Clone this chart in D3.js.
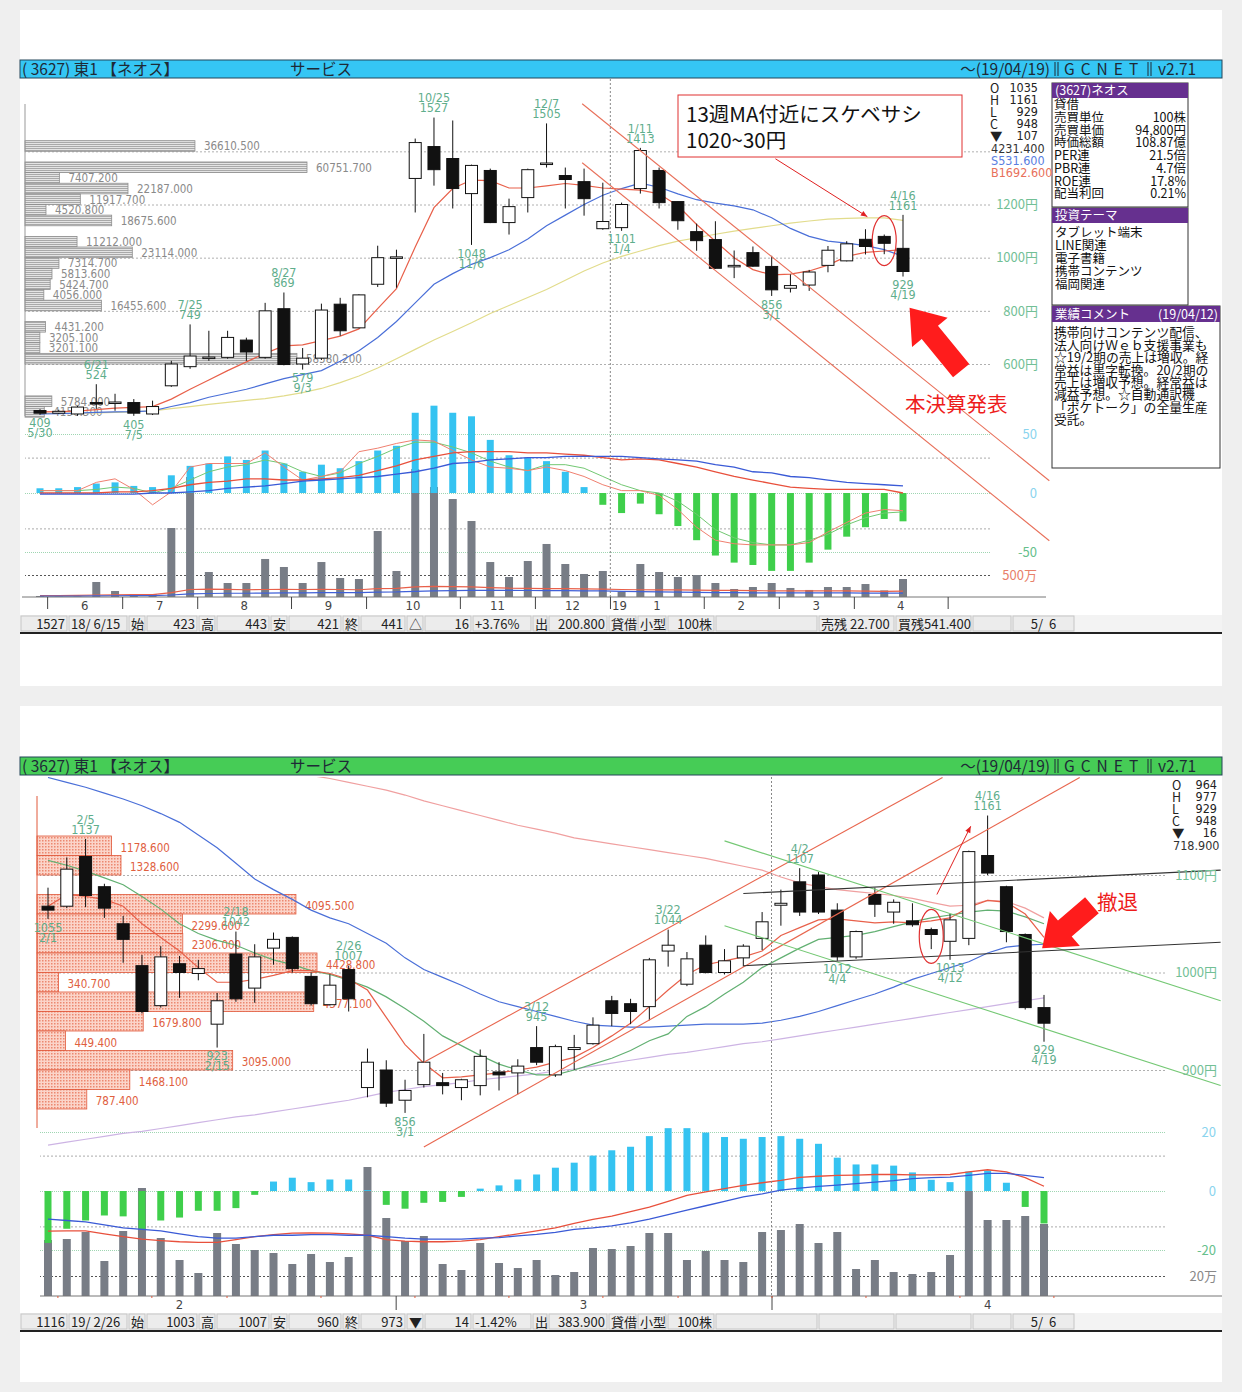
<!DOCTYPE html>
<html lang="ja">
<head>
<meta charset="utf-8">
<title>3627 ネオス</title>
<script src="https://cdn.jsdelivr.net/npm/d3@7"></script>
<style>
  body { margin: 0; background: #efefef; }
  #wrap { position: relative; width: 1242px; height: 1392px; }
  svg { display: block; }
  .blk { position: absolute; white-space: pre; width: max-content; }
</style>
</head>
<body>
<div id="wrap"><svg id="area" width="1242" height="1392"></svg></div>
<script>
// ---------- shared texts ----------
const headerTitle = "( 3627) 東1 【ネオス】";
const headerSector = "サービス";
const headerDate = "〜(19/04/19)";
const headerSite = "GCNET";
const headerVer = "v2.71";

// ---------- weekly chart (top) ----------
const wOpen  = [425,415,412,455,455,455,412,518,590,622,625,690,625,808,600,622,825,736,900,1000,1298,1418,1373,1241,1328,1132,1226,1352,1309,1286,1109,1113,1260,1328,1211,1098,1068,966,1019,967,885,897,971,988,1069,1080,1035];
const wHigh  = [430,428,442,524,488,468,462,612,749,725,725,699,830,869,660,827,849,862,1045,1030,1448,1527,1516,1350,1335,1222,1335,1505,1339,1335,1282,1207,1413,1339,1211,1128,1137,1027,1042,1007,937,954,1044,1062,1107,1087,1161];
const wLow   = [409,412,405,431,424,405,408,514,582,612,620,612,620,595,579,615,706,735,890,887,1170,1271,1185,1048,1130,1087,1170,1339,1185,1158,1105,1101,1241,1185,1105,1026,958,923,966,856,869,875,945,986,1012,1013,929];
const wClose = [415,422,438,452,457,415,440,600,630,626,700,645,800,598,622,803,725,860,1000,1003,1433,1331,1260,1347,1132,1192,1331,1356,1294,1222,1136,1200,1403,1207,1139,1064,960,971,968,879,895,946,1028,1052,1042,1054,948];
const wMaRed    = [420,421,423,428,434,437,440,468,505,540,575,608,640,668,672,688,705,732,808,883,1040,1188,1260,1292,1290,1262,1262,1270,1279,1272,1262,1258,1254,1240,1195,1125,1062,1000,955,935,938,950,972,1005,1020,1025,1030];
const wMaBlue   = [412,413,415,418,420,421,424,440,455,475,490,505,525,545,560,575,610,650,700,760,830,900,940,975,1000,1030,1070,1120,1160,1200,1235,1260,1280,1265,1240,1218,1205,1195,1180,1150,1110,1080,1062,1055,1045,1030,1005];
const wMaYellow = [414,414,415,416,418,420,424,432,440,448,456,463,470,480,492,508,530,555,585,620,655,690,722,755,790,820,850,880,915,950,980,1005,1025,1045,1062,1075,1088,1100,1110,1120,1130,1138,1145,1148,1150,1150,1140];
const wHist      = [4,4,5,8,9,6,5,15,23,25,31,28,36,25,18,24,21,27,36,40,68,74,68,65,45,32,30,27,18,5,-10,-17,-9,-18,-28,-40,-53,-59,-61,-66,-66,-59,-48,-37,-29,-22,-24];
const wThinRed   = [2,2,2,9,12,3,-10,1,22,25,25,25,34,22,11,14,18,35,38,42,45,44,36,28,22,21,19,22,19,14,7,2,2,-2,-14,-29,-40,-43,-44,-44,-44,-42,-33,-25,-17,-14,-15];
const wThinGreen = [2,2,2,3,5,4,0,4,11,18,22,24,28,25,18,14,17,25,31,38,43,43,39,34,27,22,19,24,24,21,14,7,2,0,-7,-18,-31,-38,-42,-44,-44,-40,-35,-27,-21,-17,-16];
const wSigRed    = [0,0,0,0,1,1,2,4,7,9,10,12,12,11,11,12,13,15,19,23,28,31,34,35,35,35,34,34,33,32,30,28,29,28,25,22,18,14,11,8,5,4,3,3,3,3,0];
const wSigBlue   = [-1,-1,-1,-1,-1,-1,0,0,1,2,4,5,6,8,10,11,12,13,14,16,18,21,25,26,28,29,30,30,31,31,31,31,30,29,28,27,24,22,18,17,14,13,11,9,8,7,6];
const wVol     = [23,10,10,341,136,68,68,1568,2727,568,318,318,864,682,318,795,432,409,1500,591,2909,2500,2227,1727,795,455,818,1205,750,523,591,114,750,568,455,500,318,182,227,318,205,160,227,227,295,150,409];
const wVolRed  = [30,30,35,45,50,55,55,100,170,180,175,165,170,175,170,175,170,165,190,195,230,240,235,230,215,200,195,190,190,185,180,170,165,160,160,155,150,150,145,140,140,140,140,140,135,130,135];
const wVolBlue = [20,20,22,25,28,30,30,45,70,80,85,85,90,95,95,100,100,100,110,115,130,140,145,150,150,150,148,145,145,140,138,130,120,115,110,105,100,100,95,95,95,92,92,92,90,90,90];
const wHighLabels = [[3,"6/21"],[8,"7/25"],[13,"8/27"],[21,"10/25"],[27,"12/7"],[32,"1/11"],[46,"4/16"]];
const wLowLabels  = [[0,"5/30"],[5,"7/5"],[14,"9/3"],[23,"11/6"],[31,"1/4"],[39,"3/1"],[46,"4/19"]];
const wPriceTicks = [1200,1000,800,600];
const wPriceGrid  = [1400,1200,1000,800,600];
const wMacdTicks  = [50,0,-50];
const wMonthTicks = [1,5,9,14,18,23,27,31,36,40,44,49];
const wMonthNames = ["6","7","8","9","10","11","12","1","2","3","4"];
const wProfileBins = [1400,1320,1280,1240,1200,1160,1120,1040,1000,960,920,880,840,800,720,680,640,600,440,400];
const wProfileVals = [36610.5,60751.7,7407.2,22187.0,11917.7,4520.8,18675.6,11212.0,23114.0,7314.7,5813.6,5424.7,4056.0,16455.6,4431.2,3205.1,3201.1,58580.2,5784.0,4150.3];
const wTrend = [[[28.9,1579],[53.8,161]],[[28.9,1357],[53.8,-65]]];
const wQuote = [["O","1035"],["H","1161"],["L","929"],["C","948"],["▼","107"]];
const wQuoteExtra = [["4231.400","#333"],["S531.600","#5a7ee0"],["B1692.600","#e8705a"]];
const wStatus = ["1527","18/ 6/15","始","423","高","443","安","421","終","441","△","16","+3.76%","出","200.800","貸借","小型","100株","","売残 22.700","買残541.400","","5/  6"];

// ---------- daily chart (bottom) ----------
const bOpen  = [1068,1068,1119,1088,1050,1007,966,1009,999,947,1019,984,1025,1036,996,967,1003,882,900,869,885,887,882,884,898,897,923,895,921,927,971,968,965,1022,988,1028,1000,1015,1035,1069,1093,1100,1064,1016,1080,1062,1053,1044,1032,1035,1120,1088,1039,964];
const bHigh  = [1087,1118,1137,1091,1058,1018,1027,1017,1013,979,1042,1029,1041,1037,1000,998,1007,922,910,890,937,897,891,921,908,911,945,926,936,954,976,973,1015,1044,1021,1038,1024,1029,1062,1085,1107,1103,1071,1043,1087,1075,1071,1046,1060,1125,1161,1089,1040,977];
const bLow   = [1055,1066,1067,1056,1010,958,964,974,992,923,970,969,1008,1000,966,966,960,872,862,856,882,875,869,874,879,875,905,893,900,926,945,947,951,1006,986,999,998,1006,1023,1048,1058,1060,1012,1014,1057,1050,1047,1024,1013,1028,1100,1031,962,929];
const bClose = [1064,1106,1079,1066,1034,960,1016,1000,1004,971,973,1016,1034,1004,968,987,973,908,866,879,908,884,890,914,895,904,908,924,923,946,958,960,1013,1028,1014,1000,1012,1027,1052,1071,1062,1062,1016,1042,1070,1072,1049,1039,1054,1124,1102,1042,964,948];
const bMaRed    = [1068,1080,1078,1075,1068,1050,1036,1022,1005,990,990,993,997,1002,1002,999,993,982,954,926,907,892,893,895,897,900,903,908,913,923,935,948,965,982,998,1008,1012,1016,1022,1038,1046,1054,1055,1053,1051,1052,1051,1053,1056,1067,1074,1072,1060,1036];
const bMaGreen  = [1115,1110,1104,1097,1090,1078,1065,1050,1040,1033,1028,1020,1013,1008,1002,998,992,985,975,963,950,935,925,915,906,900,895,895,900,906,912,920,930,937,955,965,978,990,1005,1015,1025,1034,1036,1038,1042,1047,1052,1056,1059,1062,1064,1063,1057,1050];
const bMaBlue   = [1200,1195,1190,1184,1178,1171,1163,1154,1141,1128,1112,1096,1085,1075,1064,1056,1050,1040,1030,1015,1003,995,987,978,970,965,960,955,950,946,945,944,944,945,946,947,947,947,948,951,955,960,966,972,978,985,993,999,1005,1011,1020,1026,1028,1029];
const bMaPink   = [null,null,null,null,null,null,null,null,null,null,null,null,1212,1207,1202,1199,1195,1191,1187,1182,1176,1171,1166,1161,1156,1151,1147,1143,1138,1135,1132,1129,1126,1123,1120,1117,1113,1109,1105,1098,1092,1088,1085,1083,1081,1079,1076,1072,1068,1069,1074,1073,1066,1056];
const bMaPurple = [823,826,829,832,835,837,840,843,846,849,852,854,857,860,863,866,869,873,877,880,883,885,887,890,892,894,896,899,901,904,907,910,913,916,918,921,924,927,929,932,935,938,941,944,947,950,953,956,959,962,965,968,971,974];
const bHist     = [-17.6,-12.8,-10,-8.3,-8.6,-12.8,-10,-9,-6.7,-6.7,-5.8,-1.3,3.2,4.5,3,3.9,3.9,0.3,-4.7,-6,-4,-3.7,-2,0.8,1.9,3.9,5.6,7.9,9.6,12,13.8,15,18.6,21.3,21.3,19.8,18.3,17.7,18.3,18.6,17.7,16,11.3,9,9,8.6,6.3,3.8,3,6.6,6.9,2.8,-5.4,-11];
const bLineRed  = [-13.6,-13.5,-13.5,-14.5,-15.5,-16.3,-16.8,-17.2,-17.4,-17.4,-16.5,-15.5,-14.8,-14.3,-14.2,-14.3,-14.5,-15,-16.5,-17,-17.2,-17.2,-17,-16.5,-15.5,-14.5,-13.5,-12.5,-11,-9.6,-8.5,-7,-5.5,-3.5,-1.5,-0.3,0.8,1.9,2.8,3.6,4.6,5,5.3,5.4,5.6,5.6,5.5,5.5,5.6,6.5,7.2,6.5,4.5,1.6];
const bLineBlue = [-9.5,-10,-10.5,-11.5,-12.5,-13,-13.5,-14.5,-15.5,-16,-16,-15.5,-15,-15,-14.8,-14.8,-15,-15,-15.5,-16,-16.3,-16.3,-16.3,-16,-15.8,-15.2,-14.7,-14,-13,-12.5,-11.8,-10.8,-9.5,-8,-6.5,-5,-3.5,-2,-1,0.3,1,1.6,2,2.5,3,3.5,4.2,4.5,4.7,5.3,6,6,5.3,4.5];
const bVol      = [56,57,64,35,65,108,58,36,23,63,52,46,43,32,42,34,39,129,78,55,60,32,26,53,33,28,36,21,24,48,47,50,63,63,36,45,36,34,64,66,72,53,64,27,36,24,22,24,41,105,76,76,80,72];
const bHighLabels = [[2,"2/5"],[10,"2/18"],[16,"2/26"],[26,"3/12"],[33,"3/22"],[40,"4/2"],[50,"4/16"]];
const bLowLabels  = [[0,"2/1"],[9,"2/15"],[19,"3/1"],[42,"4/4"],[48,"4/12"],[53,"4/19"]];
const bPriceTicks = [1100,1000,900];
const bMacdTicks  = [20,0,-20];
const bMonthTicks = [18.5,38.5];
const bMonthNames = ["2","3","4"];
const bMonthLabelAt = [7,28.5,50];
const bWeekTicks = [0.5,5.5,9.5,14.5,19.5,24.5,29.5,33.5,38.5,43.5,48.5,53.5];
const bProfileBins = [1120,1100,1060,1040,1020,1000,980,960,940,920,900,880,860];
const bProfileVals = [1178.6,1328.6,4095.5,2299.6,2306.0,4428.8,340.7,4377.1,1679.8,449.4,3095.0,1468.1,787.4];
const bTrendRed   = [[[20,908],[47.6,1200]],[[20,821],[54.9,1200]]];
const bTrendGreen = [[[36,1135],[62.4,971]],[[36,1048],[62.4,884]]];
const bTrendBlack = [[[37,1081],[62.4,1105]],[[37,1007],[62.4,1031]]];
const bQuote = [["O","964"],["H","977"],["L","929"],["C","948"],["▼","16"]];
const bQuoteExtra = [["718.900","#333"]];
const bStatus = ["1116","19/ 2/26","始","1003","高","1007","安","960","終","973","▼","14","-1.42%","出","383.900","貸借","小型","100株","","","","","5/  6"];

// ---------- info panel ----------
const infoTitle = "(3627)ネオス";
const infoRows = [["貸借",""],["売買単位","100株"],["売買単価","94,800円"],["時価総額","108.87億"],["PER連","21.5倍"],["PBR連","4.7倍"],["ROE連","17.8%"],["配当利回","0.21%"]];
const themeTitle = "投資テーマ";
const themes = ["タブレット端末","LINE関連","電子書籍","携帯コンテンツ","福岡関連"];
const commentTitle = "業績コメント";
const commentDate = "(19/04/12)";
const commentLines = ["携帯向けコンテンツ配信、","法人向けＷｅｂ支援事業も","☆19/2期の売上は増収。経","常益は黒字転換。20/2期の","売上は増収予想。経常益は","減益予想。☆自動通訳機","「ポケトーク」の全量生産","受託。"];
const noteTop = ["13週MA付近にスケベサシ","1020~30円"];
const noteTop2 = "本決算発表";
const noteBottom = "撤退";

const NUM = "'Liberation Sans Narrow','DejaVu Sans Condensed',sans-serif";
const JP  = "'Noto Sans CJK JP','Noto Sans',sans-serif";
const MIX = "'Liberation Sans Narrow','Noto Sans CJK JP',sans-serif";
const LBL = "#5fae8c";

let svg = d3.select("#area");
let wrap = d3.select("#wrap");
let defs = svg.append("defs");

let pg = defs.append("pattern").attr("id","stripeGray").attr("width",4).attr("height",2).attr("patternUnits","userSpaceOnUse");
pg.append("rect").attr("width",4).attr("height",2).attr("fill","#e4e4e4");
pg.append("rect").attr("width",4).attr("height",1).attr("fill","#a9a9a9");
let pr = defs.append("pattern").attr("id","dotRed").attr("width",3).attr("height",3).attr("patternUnits","userSpaceOnUse");
pr.append("rect").attr("width",3).attr("height",3).attr("fill","#fbd4c9");
pr.append("rect").attr("width",1.5).attr("height",1.5).attr("fill","#ec8870");
defs.append("clipPath").attr("id","clipTop").append("rect").attr("x",21).attr("y",79).attr("width",1029).attr("height",518);
defs.append("clipPath").attr("id","clipBot").append("rect").attr("x",21).attr("y",777).attr("width",1200).attr("height",519);

function txt(g, x, y, s, size, fill, anchor, font) {
  return g.append("text").attr("x", x).attr("y", y).text(s)
    .attr("font-size", size).attr("fill", fill)
    .attr("text-anchor", anchor || "start")
    .attr("font-family", font || NUM)
    .style("white-space", "pre");
}

// multi-line block laid over the svg; y is the first baseline
function block(x, y, rows, step, size, color, align, font, colors) {
  let m = font === JP ? [1.16, 0.288] : [0.905, 0.212];
  let top = y - ((step - (m[0] + m[1]) * size) / 2 + m[0] * size);
  let d = wrap.append("div").attr("class", "blk")
    .style("left", x + "px").style("top", top + "px")
    .style("font-size", size + "px").style("line-height", step + "px")
    .style("font-family", font || NUM).style("color", color)
    .style("text-align", align === "end" ? "right" : align === "middle" ? "center" : "left");
  if (align === "end") d.style("transform", "translateX(-100%)");
  if (align === "middle") d.style("transform", "translateX(-50%)");
  if (colors) rows.forEach((r, k) => d.append("span").style("color", colors[k]).text(r + (k < rows.length - 1 ? "\n" : "")));
  else d.text(rows.join("\n"));
  return d;
}

function header(y0, fill) {
  let g = svg.append("g");
  g.append("rect").attr("x",20).attr("y",y0).attr("width",1202).attr("height",18)
    .attr("fill",fill).attr("stroke","#24465a");
  txt(g, 22, y0+15, headerTitle, 15.5, "#1e2a36", "start", JP);
  txt(g, 290, y0+15, headerSector, 15.5, "#1e2a36", "start", JP);
  txt(g, 1050, y0+15, headerDate, 15.5, "#1e2a36", "end", MIX);
  txt(g, 1064, y0+15, headerSite, 15.5, "#1e2a36", "start", MIX).attr("letter-spacing", 6);
  txt(g, 1158, y0+15, headerVer, 15.5, "#1e2a36", "start", MIX);
  [1055, 1058, 1148, 1151].forEach(x => g.append("line").attr("x1",x).attr("x2",x)
    .attr("y1",y0+2).attr("y2",y0+16).attr("stroke","#1e2a36"));
}

const cells = [[20,48,"end"],[68,60,"start"],[128,18,"start"],[146,52,"end"],[198,18,"start"],[216,54,"end"],[270,18,"start"],[288,54,"end"],[342,18,"start"],[360,46,"end"],[406,18,"start"],[424,48,"end"],[472,60,"start"],[532,16,"start"],[548,60,"end"],[608,29,"start"],[637,30,"start"],[667,48,"end"],[715,103,"start"],[818,77,"start"],[895,77,"start"],[972,40,"start"],[1012,63,"middle"]];

function statusBar(y0, texts) {
  let g = svg.append("g");
  g.append("rect").attr("x",20).attr("y",y0).attr("width",1202).attr("height",17).attr("fill","#f3f3f3");
  cells.forEach((c, i) => {
    g.append("rect").attr("x",c[0]+1).attr("y",y0+1).attr("width",c[1]-2).attr("height",15)
      .attr("fill","#ececec").attr("stroke","#c6c6c6");
    if (texts[i] === "") return;
    let tx = c[2] === "end" ? c[0]+c[1]-3 : c[2] === "middle" ? c[0]+c[1]/2 : c[0]+3;
    txt(g, tx, y0+13.5, texts[i], 13, "#222", c[2], MIX);
  });
  g.append("line").attr("x1",20).attr("x2",1222).attr("y1",y0+18).attr("y2",y0+18)
    .attr("stroke","#222").attr("stroke-width",2);
}

function gridAxis(g, scale, vals, x0, x1, color, dash) {
  let a = g.append("g").attr("transform", "translate(" + x1 + ",0)")
    .call(d3.axisLeft(scale).tickValues(vals).tickSize(x1 - x0).tickFormat(""));
  a.select(".domain").remove();
  a.selectAll("line").attr("stroke", color).attr("stroke-dasharray", dash);
}

function labelAxis(g, scale, vals, x, fmt, colorFn, size) {
  let a = g.append("g").attr("transform", "translate(" + x + ",0)")
    .call(d3.axisLeft(scale).tickValues(vals).tickSize(0).tickPadding(0).tickFormat(fmt));
  a.select(".domain").remove();
  a.selectAll("text").attr("fill", colorFn).attr("font-size", size).attr("font-family", MIX);
}

function drawCandles(g, x, y, O, H, L, C, w) {
  let idx = d3.range(O.length);
  g.selectAll(null).data(idx).join("line")
    .attr("x1", i => x(i)).attr("x2", i => x(i))
    .attr("y1", i => y(H[i])).attr("y2", i => y(L[i]))
    .attr("stroke", "#111");
  g.selectAll(null).data(idx).join("rect")
    .attr("x", i => x(i) - w/2).attr("width", w)
    .attr("y", i => y(Math.max(O[i], C[i])))
    .attr("height", i => Math.max(1.5, Math.abs(y(O[i]) - y(C[i]))))
    .attr("fill", i => C[i] >= O[i] ? "#fff" : "#111")
    .attr("stroke", "#111");
}

function drawLine(g, x, y, vals, color, width) {
  g.append("path").datum(vals)
    .attr("d", d3.line().defined(d => d != null).x((d, i) => x(i)).y(d => y(d)))
    .attr("fill", "none").attr("stroke", color).attr("stroke-width", width || 1);
}

function drawSegments(g, x, y, segs, color, width) {
  segs.forEach(s => g.append("path").datum(s)
    .attr("d", d3.line().x(d => x(d[0])).y(d => y(d[1])))
    .attr("fill","none").attr("stroke",color).attr("stroke-width",width || 1));
}

function drawVolume(g, x, y, vals, w) {
  g.selectAll(null).data(vals).join("rect")
    .attr("x", (d, i) => x(i) - w/2).attr("width", w)
    .attr("y", d => y(d)).attr("height", d => y(0) - y(d))
    .attr("fill", "#787d86");
}

function drawHist(g, x, y, vals, w) {
  g.selectAll(null).data(vals).join("rect")
    .attr("x", (d, i) => x(i) - w/2).attr("width", w)
    .attr("y", d => y(Math.max(0, d))).attr("height", d => Math.abs(y(d) - y(0)))
    .attr("fill", d => d >= 0 ? "#35c3f1" : "#3fcf4b");
}

function dateLabels(x, y, items, src, above) {
  items.forEach(([i, s]) => {
    let v = src[i];
    if (above) block(x(i), y(v) - 15, [s, String(v)], 10, 12.5, LBL, "middle", NUM);
    else block(x(i), y(v) + 13, [String(v), s], 10, 12.5, LBL, "middle", NUM);
  });
}

function profile(g, bins, vals, step, yS, xS, fill, stroke, color, dy) {
  g.selectAll(null).data(bins).join("rect")
    .attr("x", xS(0)).attr("y", b => yS(b + step))
    .attr("width", (b, i) => xS(vals[i]) - xS(0))
    .attr("height", b => yS(b) - yS(b + step))
    .attr("fill", fill).attr("stroke", stroke).attr("stroke-width", 0.8);
  bins.forEach((b, i) => txt(g, xS(vals[i]) + 9, yS(b) - dy, d3.format(".3f")(vals[i]), 11.5, color));
}

function blockArrow(g, tail, tip, hl, hw, sw) {
  let dx = tip[0] - tail[0], dy = tip[1] - tail[1];
  let len = Math.hypot(dx, dy), ux = dx/len, uy = dy/len, px = -uy, py = ux;
  let bx = tip[0] - ux*hl, by = tip[1] - uy*hl;
  let pts = [[tail[0]+px*sw/2, tail[1]+py*sw/2],[bx+px*sw/2, by+py*sw/2],[bx+px*hw/2, by+py*hw/2],tip,
             [bx-px*hw/2, by-py*hw/2],[bx-px*sw/2, by-py*sw/2],[tail[0]-px*sw/2, tail[1]-py*sw/2]];
  g.append("polygon").attr("points", pts.map(p => p.join(",")).join(" ")).attr("fill", "#ff1c1c");
}

function thinArrow(g, a, b) {
  g.append("line").attr("x1",a[0]).attr("y1",a[1]).attr("x2",b[0]).attr("y2",b[1])
    .attr("stroke","#e02020").attr("stroke-width",1);
  let ang = Math.atan2(b[1]-a[1], b[0]-a[0]);
  let p1 = [b[0]-7*Math.cos(ang-0.4), b[1]-7*Math.sin(ang-0.4)];
  let p2 = [b[0]-7*Math.cos(ang+0.4), b[1]-7*Math.sin(ang+0.4)];
  g.append("polygon").attr("points", [b, p1, p2].map(p => p.join(",")).join(" ")).attr("fill","#e02020");
}

function quoteBlock(x0, x1, y0, rows, extra) {
  block(x0, y0, rows.map(r => r[0]), 12, 12.5, "#222", "start", MIX);
  block(x1, y0, rows.map(r => r[1]), 12, 12.5, "#222", "end", NUM);
  block(x0 + 1, y0 + rows.length*12.2, extra.map(e => e[0]), 12.2, 12.5, "#333", "start", NUM, extra.map(e => e[1]));
}

// cards
svg.append("rect").attr("x",20).attr("y",10).attr("width",1202).attr("height",676).attr("fill","#fff");
svg.append("rect").attr("x",20).attr("y",706).attr("width",1202).attr("height",676).attr("fill","#fff");

// ================= TOP (weekly) =================
let xW  = d3.scaleLinear().domain([0, wOpen.length - 1]).range([40, 903]);
let yW  = d3.scaleLinear().domain([600, 1200]).range([364, 204.5]);
let yWm = d3.scaleLinear().domain([-50, 50]).range([552, 434]);
let yWv = d3.scaleLinear().domain([0, 500]).range([597, 575]);

let topG = svg.append("g");
gridAxis(topG, yW, wPriceGrid, 25, 990, "#b0b0b0", "2,2");
gridAxis(topG, yWm, [50, 0, -50], 25, 990, "#9fd6b2", "1,1");
gridAxis(topG, yWm, [30, -30], 25, 990, "#aaaaaa", "2,2");
gridAxis(topG, yWv, [500], 25, 990, "#555", "2,2");

let topClip = topG.append("g").attr("clip-path", "url(#clipTop)");
let xWp = d3.scaleLinear().domain([0, 60751.7]).range([25, 307]);
profile(topClip, wProfileBins, wProfileVals, 40, yW, xWp, "url(#stripeGray)", "#8e8e8e", "#8a8a8a", 1);
topG.append("line").attr("x1",25).attr("x2",25).attr("y1",104).attr("y2",416).attr("stroke","#999");
topG.append("line").attr("x1",xW(30.4)).attr("x2",xW(30.4)).attr("y1",79).attr("y2",597)
  .attr("stroke","#888").attr("stroke-dasharray","2,2");

drawVolume(topClip, xW, yWv, wVol, 8);
drawHist(topClip, xW, yWm, wHist, 7);
drawLine(topClip, xW, yWv, wVolRed, "#e8604a", 1.2);
drawLine(topClip, xW, yWv, wVolBlue, "#4060d8", 1.2);
drawLine(topClip, xW, yWm, wThinGreen, "#72c872", 1);
drawLine(topClip, xW, yWm, wThinRed, "#f08070", 1);
drawLine(topClip, xW, yWm, wSigRed, "#e8503c", 1.3);
drawLine(topClip, xW, yWm, wSigBlue, "#3a5ad6", 1.3);
drawLine(topClip, xW, yW, wMaYellow, "#e2dc8c", 1.2);
drawLine(topClip, xW, yW, wMaBlue, "#4a6fd8", 1.2);
drawLine(topClip, xW, yW, wMaRed, "#e8604a", 1.2);
drawCandles(topClip, xW, yW, wOpen, wHigh, wLow, wClose, 12);
drawSegments(topClip, xW, yW, wTrend, "#e8705a", 1.1);
dateLabels(xW, yW, wHighLabels, wHigh, true);
dateLabels(xW, yW, wLowLabels, wLow, false);

labelAxis(topG, yW, wPriceTicks, 1038, d => d + "円", "#72c096", 13);
labelAxis(topG, yWm, wMacdTicks, 1037, d => d, d => d < 0 ? "#66c08c" : "#8ad4ee", 13);
labelAxis(topG, yWv, [500], 1037, d => d + "万", "#e8806a", 13);

// month axis
topG.append("line").attr("x1",22).attr("x2",1046).attr("y1",597).attr("y2",597).attr("stroke","#777");
let mt = topG.append("g").attr("transform","translate(0,597)")
  .call(d3.axisBottom(xW).tickValues(wMonthTicks.map(t => t - 0.62)).tickSize(12).tickFormat(""));
mt.select(".domain").remove();
mt.selectAll("line").attr("stroke","#444");
wMonthNames.forEach((m, k) => {
  let xm = (xW(wMonthTicks[k] - 0.62) + xW(wMonthTicks[k+1] - 0.62)) / 2;
  txt(topG, xm, 610, m, 13, "#444", "middle");
});
txt(topG, xW(30.38) + 2, 610, "19", 13, "#444", "start");

header(60, "#35c6f4");
statusBar(615, wStatus);
quoteBlock(990, 1038, 92, wQuote, wQuoteExtra);

// info panel
let info = svg.append("g");
info.append("rect").attr("x",1052).attr("y",83).attr("width",136).attr("height",124).attr("fill","#fff").attr("stroke","#333");
info.append("rect").attr("x",1052).attr("y",83).attr("width",136).attr("height",15).attr("fill","#66308f");
txt(info, 1055, 95, infoTitle, 12.5, "#fff", "start", MIX);
block(1054, 109, infoRows.map(r => r[0]), 12.7, 12.5, "#111", "start", MIX);
block(1186, 109, infoRows.map(r => r[1]), 12.7, 12.5, "#111", "end", MIX);
info.append("rect").attr("x",1052).attr("y",208).attr("width",136).attr("height",97).attr("fill","#fff").attr("stroke","#333");
info.append("rect").attr("x",1052).attr("y",208).attr("width",136).attr("height",15).attr("fill","#66308f");
txt(info, 1055, 220, themeTitle, 12.5, "#fff", "start", JP);
block(1055, 236, themes, 13, 12.5, "#111", "start", MIX);
info.append("rect").attr("x",1052).attr("y",306).attr("width",168).attr("height",162).attr("fill","#fff").attr("stroke","#333");
info.append("rect").attr("x",1052).attr("y",306).attr("width",168).attr("height",16).attr("fill","#66308f");
txt(info, 1055, 319, commentTitle, 12.5, "#fff", "start", JP);
txt(info, 1218, 319, commentDate, 12.5, "#fff", "end", MIX);
block(1054, 337, commentLines, 12.4, 12.8, "#111", "start", MIX);

// top annotations
let ann = svg.append("g");
ann.append("rect").attr("x",678).attr("y",95).attr("width",284).attr("height",62).attr("fill","#fff").attr("stroke","#e03030");
block(686, 122, noteTop, 26, 20.5, "#111", "start", JP);
thinArrow(ann, [xW(39.2), yW(1372)], [xW(44.1), yW(1154)]);
ann.append("ellipse").attr("cx", xW(45)).attr("cy", yW(1064)).attr("rx",12).attr("ry",25)
  .attr("fill","none").attr("stroke","#e03030").attr("stroke-width",1.2);
blockArrow(ann, [xW(49.1), yW(575)], [xW(46.35), yW(812)], 32, 46, 21);
txt(ann, 905, 412, noteTop2, 20.5, "#ee1c1c", "start", JP);

// ================= BOTTOM (daily) =================
let xD  = d3.scaleLinear().domain([0, bOpen.length - 1]).range([48, 1044]);
let yD  = d3.scaleLinear().domain([900, 1100]).range([1070, 875]);
let yDm = d3.scaleLinear().domain([-20, 20]).range([1250, 1132]);
let yDv = d3.scaleLinear().domain([0, 20]).range([1296, 1276]);

let botG = svg.append("g");
gridAxis(botG, yD, bPriceTicks, 40, 1165, "#b0b0b0", "2,2");
gridAxis(botG, yDm, [20, 0, -20], 40, 1165, "#9fd6b2", "1,1");
gridAxis(botG, yDm, [12, -12], 40, 1165, "#aaaaaa", "2,2");
gridAxis(botG, yDv, [20], 40, 1165, "#555", "2,2");

let botClip = botG.append("g").attr("clip-path", "url(#clipBot)");
let xDp = d3.scaleLinear().domain([0, 4428.8]).range([37, 317]);
profile(botClip, bProfileBins, bProfileVals, 20, yD, xDp, "url(#dotRed)", "#e0583a", "#e0603e", 4);
botG.append("line").attr("x1",37).attr("x2",37).attr("y1",796).attr("y2",1128).attr("stroke","#e0583a");
botG.append("line").attr("x1",xD(38.5)).attr("x2",xD(38.5)).attr("y1",777).attr("y2",1296)
  .attr("stroke","#888").attr("stroke-dasharray","2,2");

drawVolume(botClip, xD, yDv, bVol, 8);
drawHist(botClip, xD, yDm, bHist, 7);
drawLine(botClip, xD, yDm, bLineRed, "#e8503c", 1.3);
drawLine(botClip, xD, yDm, bLineBlue, "#3a5ad6", 1.3);
drawLine(botClip, xD, yD, bMaPurple, "#cdb4e4", 1.2);
drawLine(botClip, xD, yD, bMaPink, "#f0a0a0", 1.2);
drawLine(botClip, xD, yD, bMaBlue, "#4a6fd8", 1.2);
drawLine(botClip, xD, yD, bMaGreen, "#62b072", 1.2);
drawLine(botClip, xD, yD, bMaRed, "#e8604a", 1.2);
drawCandles(botClip, xD, yD, bOpen, bHigh, bLow, bClose, 12);
drawSegments(botClip, xD, yD, bTrendRed, "#e8664e", 1.1);
drawSegments(botClip, xD, yD, bTrendGreen, "#74c874", 1.1);
drawSegments(botClip, xD, yD, bTrendBlack, "#333", 1.1);
dateLabels(xD, yD, bHighLabels, bHigh, true);
dateLabels(xD, yD, bLowLabels, bLow, false);

labelAxis(botG, yD, bPriceTicks, 1217, d => d + "円", "#72c096", 13);
labelAxis(botG, yDm, bMacdTicks, 1216, d => d, d => d < 0 ? "#66c08c" : "#8ad4ee", 13);
labelAxis(botG, yDv, [20], 1217, d => d + "万", "#888", 13);

botG.append("line").attr("x1",40).attr("x2",1222).attr("y1",1296).attr("y2",1296).attr("stroke","#777");
let bt = botG.append("g").attr("transform","translate(0,1296)")
  .call(d3.axisBottom(xD).tickValues(bMonthTicks).tickSize(14).tickFormat(""));
bt.select(".domain").remove();
bt.selectAll("line").attr("stroke","#444");
let wt = botG.append("g").attr("transform","translate(0,1296)")
  .call(d3.axisBottom(xD).tickValues(bWeekTicks).tickSize(2).tickFormat(""));
wt.select(".domain").remove();
wt.selectAll("line").attr("stroke","#e0583a");
bMonthNames.forEach((m, k) => txt(botG, xD(bMonthLabelAt[k]), 1309, m, 13, "#444", "middle"));

header(757, "#46cc56");
statusBar(1313, bStatus);
quoteBlock(1172, 1217, 789, bQuote, bQuoteExtra);

// bottom annotations
let ann2 = svg.append("g");
ann2.append("ellipse").attr("cx", xD(47)).attr("cy", yD(1037)).attr("rx",12).attr("ry",27)
  .attr("fill","none").attr("stroke","#e03030").attr("stroke-width",1.2);
thinArrow(ann2, [xD(47.3), yD(1080)], [xD(49.1), yD(1150)]);
blockArrow(ann2, [xD(55.55), yD(1069)], [xD(52.9), yD(1025)], 30, 46, 21);
txt(ann2, 1097, 910, noteBottom, 20.5, "#ee1c1c", "start", JP);
</script>
</body>
</html>
